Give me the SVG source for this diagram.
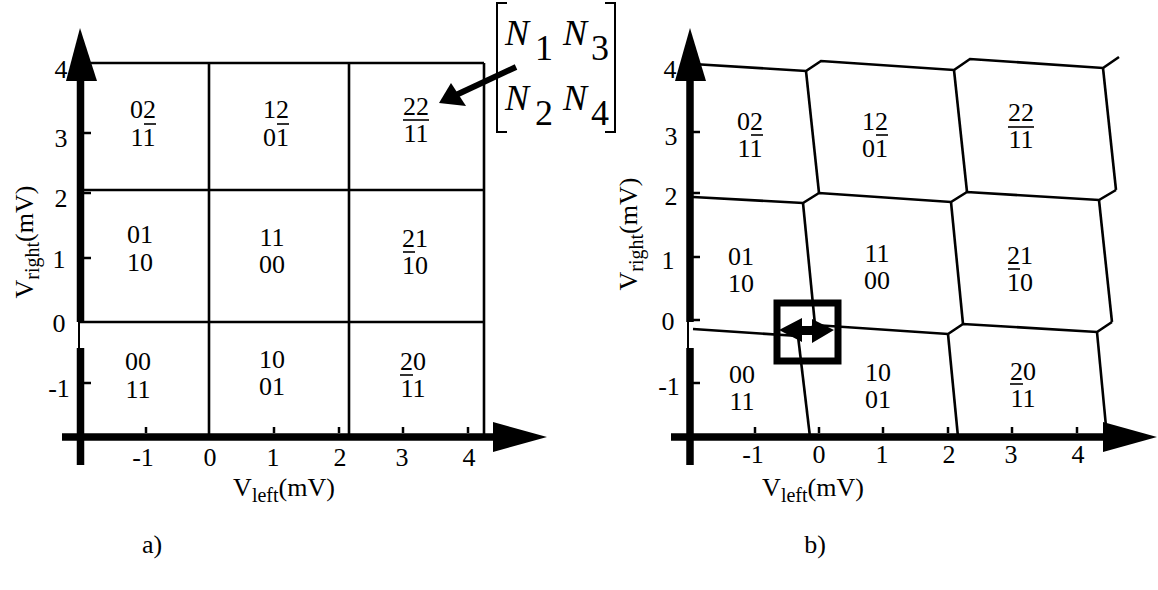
<svg xmlns="http://www.w3.org/2000/svg" width="1158" height="590" viewBox="0 0 1158 590">
<style>
text{font-family:"Liberation Serif","Times New Roman",serif;fill:#000}
.t{font-size:26px}
.c{font-size:26px;text-anchor:middle}
.sub{font-size:20px}
.it{font-style:italic;font-size:36px}
.g{stroke:#000;stroke-width:2.6;fill:none;stroke-linejoin:miter}
.ax{stroke:#000;stroke-width:7.5;fill:none}
.tk{stroke:#000;stroke-width:2.5}
.bar{stroke:#000;stroke-width:1.6}
</style>
<rect width="1158" height="590" fill="#fff"/>

<!-- Panel a grid -->
<g id="grid-a" class="g">
<line x1="80" y1="63" x2="484" y2="63"/>
<line x1="80" y1="190" x2="484" y2="190"/>
<line x1="80" y1="322" x2="484" y2="322"/>
<line x1="209" y1="63" x2="209" y2="437"/>
<line x1="349" y1="63" x2="349" y2="437"/>
<line x1="484" y1="63" x2="484" y2="437"/>
</g>

<!-- Panel a axes -->
<g id="axes-a">
<line class="ax" x1="80.5" y1="78" x2="80.5" y2="322"/>
<line class="ax" x1="80.5" y1="348" x2="80.5" y2="465"/>
<line stroke="#000" stroke-width="2" x1="79" y1="320" x2="79" y2="350"/>
<polygon points="80,28 66,81 97,81"/>
<line class="ax" x1="62" y1="437" x2="496" y2="437"/>
<polygon points="547,437 493,422 493,452"/>
<g class="tk">
<line x1="84" y1="133" x2="91" y2="133"/>
<line x1="84" y1="193" x2="91" y2="193"/>
<line x1="84" y1="258" x2="91" y2="258"/>
<line x1="84" y1="383" x2="91" y2="383"/>
<line x1="146" y1="427" x2="146" y2="433"/>
<line x1="274" y1="427" x2="274" y2="433"/>
<line x1="339" y1="427" x2="339" y2="433"/>
<line x1="403" y1="427" x2="403" y2="433"/>
<line x1="468" y1="427" x2="468" y2="433"/>
</g>
<text class="c" x="61" y="78">4</text>
<text class="c" x="61" y="147">3</text>
<text class="c" x="61" y="207">2</text>
<text class="c" x="59" y="268">1</text>
<text class="c" x="59" y="332">0</text>
<text class="c" x="59" y="397">-1</text>
<text class="c" x="143" y="466">-1</text>
<text class="c" x="210" y="466">0</text>
<text class="c" x="273" y="466">1</text>
<text class="c" x="340" y="466">2</text>
<text class="c" x="402" y="466">3</text>
<text class="c" x="469" y="466">4</text>
<text class="t" transform="translate(33,242) rotate(-90)" text-anchor="middle">V<tspan class="sub" dy="6">right</tspan><tspan dy="-6">(mV)</tspan></text>
<text class="t" x="284" y="496" text-anchor="middle">V<tspan class="sub" dy="6">left</tspan><tspan dy="-6">(mV)</tspan></text>
<text class="t" x="152" y="553" text-anchor="middle">a)</text>
</g>

<!-- Panel a cells -->
<g id="a-02"><text class="c" x="143" y="118">02</text><text class="c" x="143" y="146">11</text><line class="bar" x1="144" y1="124" x2="156" y2="124"/></g>
<g id="a-12"><text class="c" x="276" y="118">12</text><text class="c" x="276" y="146">01</text><line class="bar" x1="277" y1="124" x2="289" y2="124"/></g>
<g id="a-22"><text class="c" x="416" y="115">22</text><text class="c" x="416" y="142">11</text><line class="bar" x1="403" y1="120" x2="429" y2="120"/></g>
<g id="a-01"><text class="c" x="140" y="243">01</text><text class="c" x="140" y="271">10</text></g>
<g id="a-11"><text class="c" x="272" y="246">11</text><text class="c" x="272" y="273">00</text></g>
<g id="a-21"><text class="c" x="415" y="247">21</text><text class="c" x="415" y="274">10</text><line class="bar" x1="403" y1="252" x2="415" y2="252"/></g>
<g id="a-00"><text class="c" x="138" y="370">00</text><text class="c" x="138" y="398">11</text></g>
<g id="a-10"><text class="c" x="272" y="368">10</text><text class="c" x="272" y="395">01</text></g>
<g id="a-20"><text class="c" x="413" y="370">20</text><text class="c" x="413" y="397">11</text><line class="bar" x1="400" y1="375" x2="413" y2="375"/></g>

<!-- Matrix annotation -->
<g id="matrix">
<path d="M507,3 H497 V132 H507 M605,3 H615 V132 H605" stroke="#000" stroke-width="2" fill="none"/>
<text class="it" x="505" y="45">N</text><text style="font-size:36px" x="535" y="60">1</text>
<text class="it" x="563" y="45">N</text><text style="font-size:36px" x="591" y="60">3</text>
<text class="it" x="505" y="110">N</text><text style="font-size:36px" x="535" y="125">2</text>
<text class="it" x="563" y="110">N</text><text style="font-size:36px" x="591" y="125">4</text>
</g>
<g id="connectors">
<line x1="516" y1="67" x2="456" y2="95" stroke="#000" stroke-width="6"/>
<polygon points="439,103 451,83 466,106"/>
</g>

<!-- Panel b grid -->
<g id="grid-b" class="g">
<polyline points="693,64 806,71 821,61 954,70 970,59 1103,68 1119,57"/>
<line x1="806" y1="71" x2="819" y2="193"/>
<line x1="954" y1="70" x2="967" y2="192"/>
<line x1="1103" y1="68" x2="1116" y2="190"/>
<polyline points="693,197 803,203 819,193 951,202 967,192 1099,200 1116,190"/>
<line x1="803" y1="203" x2="815" y2="325"/>
<line x1="951" y1="202" x2="963" y2="324"/>
<line x1="1099" y1="200" x2="1112" y2="322"/>
<polyline points="693,329 798,336 815,325 948,334 963,324 1097,332 1112,322"/>
<line x1="798" y1="336" x2="810" y2="437"/>
<line x1="948" y1="334" x2="958" y2="437"/>
<line x1="1097" y1="332" x2="1107" y2="437"/>
</g>

<!-- Panel b axes -->
<g id="axes-b">
<line class="ax" x1="690" y1="78" x2="690" y2="322"/>
<line class="ax" x1="690" y1="348" x2="690" y2="465"/>
<line stroke="#000" stroke-width="2" x1="688" y1="320" x2="688" y2="350"/>
<polygon points="690,28 675,81 706,81"/>
<line class="ax" x1="671" y1="437" x2="1106" y2="437"/>
<polygon points="1157,437 1103,422 1103,452"/>
<g class="tk">
<line x1="693" y1="132" x2="700" y2="132"/>
<line x1="693" y1="193" x2="700" y2="193"/>
<line x1="693" y1="257" x2="700" y2="257"/>
<line x1="693" y1="320" x2="700" y2="320"/>
<line x1="693" y1="383" x2="700" y2="383"/>
<line x1="755" y1="427" x2="755" y2="433"/>
<line x1="819" y1="427" x2="819" y2="433"/>
<line x1="883" y1="427" x2="883" y2="433"/>
<line x1="948" y1="427" x2="948" y2="433"/>
<line x1="1012" y1="427" x2="1012" y2="433"/>
<line x1="1077" y1="427" x2="1077" y2="433"/>
</g>
<text class="c" x="670" y="78">4</text>
<text class="c" x="671" y="145">3</text>
<text class="c" x="671" y="205">2</text>
<text class="c" x="668" y="269">1</text>
<text class="c" x="668" y="330">0</text>
<text class="c" x="669" y="395">-1</text>
<text class="c" x="753" y="463">-1</text>
<text class="c" x="819" y="463">0</text>
<text class="c" x="882" y="463">1</text>
<text class="c" x="949" y="463">2</text>
<text class="c" x="1011" y="463">3</text>
<text class="c" x="1078" y="463">4</text>
<text class="t" transform="translate(637,234) rotate(-90)" text-anchor="middle">V<tspan class="sub" dy="6">right</tspan><tspan dy="-6">(mV)</tspan></text>
<text class="t" x="813" y="496" text-anchor="middle">V<tspan class="sub" dy="6">left</tspan><tspan dy="-6">(mV)</tspan></text>
<text class="t" x="815" y="553" text-anchor="middle">b)</text>
</g>

<!-- Panel b cells -->
<g id="b-02"><text class="c" x="750" y="130">02</text><text class="c" x="750" y="157">11</text><line class="bar" x1="751" y1="135" x2="763" y2="135"/></g>
<g id="b-12"><text class="c" x="875" y="130">12</text><text class="c" x="875" y="157">01</text><line class="bar" x1="876" y1="135" x2="888" y2="135"/></g>
<g id="b-22"><text class="c" x="1021" y="121">22</text><text class="c" x="1021" y="148">11</text><line class="bar" x1="1008" y1="127" x2="1034" y2="127"/></g>
<g id="b-01"><text class="c" x="741" y="265">01</text><text class="c" x="741" y="292">10</text></g>
<g id="b-11"><text class="c" x="877" y="262">11</text><text class="c" x="877" y="289">00</text></g>
<g id="b-21"><text class="c" x="1020" y="264">21</text><text class="c" x="1020" y="291">10</text><line class="bar" x1="1008" y1="269" x2="1020" y2="269"/></g>
<g id="b-00"><text class="c" x="742" y="383">00</text><text class="c" x="742" y="410">11</text></g>
<g id="b-10"><text class="c" x="878" y="381">10</text><text class="c" x="878" y="408">01</text></g>
<g id="b-20"><text class="c" x="1023" y="380">20</text><text class="c" x="1023" y="407">11</text><line class="bar" x1="1010" y1="384" x2="1023" y2="384"/></g>

<!-- Box with double arrow -->
<g id="marker-box">
<rect x="777" y="303" width="61" height="58" fill="none" stroke="#000" stroke-width="7"/>
<polygon points="779,330 802,318 802,326 812,326 812,319 834,330 812,343 812,335 802,335 802,342"/>
</g>
</svg>
